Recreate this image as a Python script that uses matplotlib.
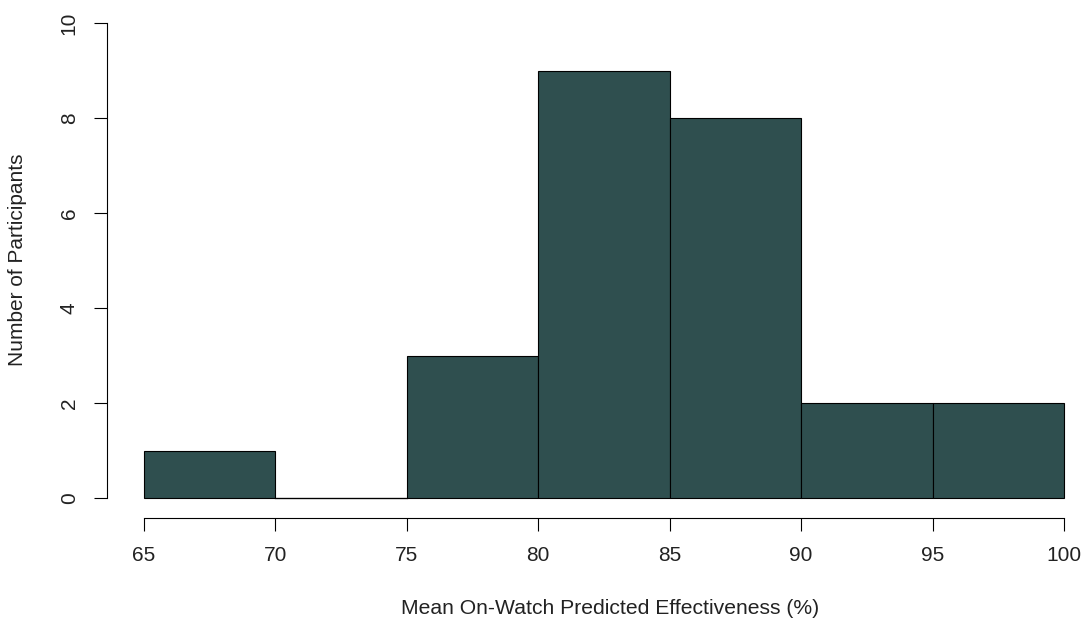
import matplotlib
matplotlib.use("Agg")
import matplotlib.pyplot as plt
import numpy as np

bin_edges = [65, 70, 75, 80, 85, 90, 95, 100]
counts = [1, 0, 3, 9, 8, 2, 2]
x_ticks = [65, 70, 75, 80, 85, 90, 95, 100]
y_ticks = [0, 2, 4, 6, 8, 10]
x_label = "Mean On-Watch Predicted Effectiveness (%)"
y_label = "Number of Participants"

plt.rcParams['font.family'] = ['Liberation Sans', 'DejaVu Sans']

W, H = 1083, 620
fig = plt.figure(figsize=(W / 100, H / 100), dpi=100)
ax = fig.add_axes([144 / W, (H - 498) / H, (1064 - 144) / W, (498 - 23) / H])

lefts = np.array(bin_edges[:-1])
widths = np.diff(bin_edges)
ax.bar(lefts, counts, width=widths, align='edge', color='#2F4F4F',
       edgecolor='black', linewidth=0.8, clip_on=False)
# zero-height bins drawn as a baseline line (R style)
for l, w, c in zip(lefts, widths, counts):
    if c == 0:
        ax.plot([l, l + w], [0, 0], color='black', linewidth=0.9, clip_on=False)

ax.set_xlim(65, 100)
ax.set_ylim(0, 10)
for s in ['top', 'right']:
    ax.spines[s].set_visible(False)
ax.spines['left'].set_position(('outward', 37 * 0.72))
ax.spines['bottom'].set_position(('outward', 20 * 0.72))
ax.spines['left'].set_bounds(0, 10)
ax.spines['bottom'].set_bounds(65, 100)
for s in ['left', 'bottom']:
    ax.spines[s].set_linewidth(0.8)

ax.set_xticks(x_ticks)
ax.set_yticks(y_ticks)
ax.set_xticklabels([str(t) for t in x_ticks])
ax.set_yticklabels([str(t) for t in y_ticks], rotation=90, va='center')
ax.tick_params(axis='both', length=13 * 0.72, width=0.8, labelsize=15,
               colors='black')
ax.tick_params(axis='x', pad=11)
ax.tick_params(axis='y', pad=11)
for lab in ax.get_xticklabels() + ax.get_yticklabels():
    lab.set_color('#222222')

fig.text(610 / W, 1 - 608 / H, x_label, ha='center', va='center',
         fontsize=15.2, color='#222222')
fig.text(18 / W, 1 - 260 / H, y_label, ha='center', va='center',
         rotation=90, fontsize=15, color='#222222')

fig.savefig('out.png', dpi=100)
